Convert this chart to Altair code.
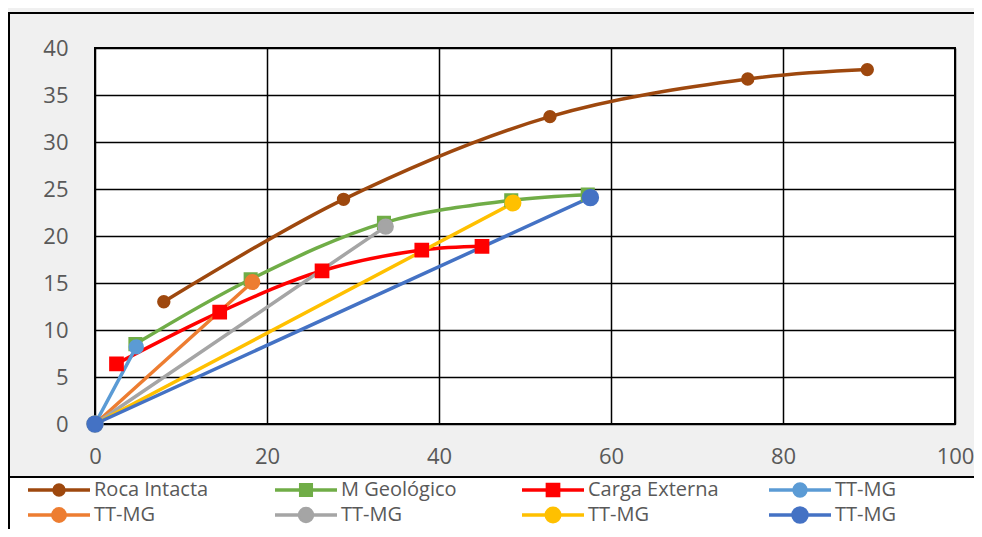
import altair as alt
import pandas as pd

# ---- series definitions ----
series_ids = ["s0", "s1", "s2", "s3", "s4", "s5", "s6", "s7"]
series_labels = ["Roca Intacta", "M Geológico", "Carga Externa",
                 "TT-MG", "TT-MG", "TT-MG", "TT-MG", "TT-MG"]

# ---- values ----
roca_x = [8.0, 28.9, 52.9, 75.9, 89.8]
roca_y = [13.0, 23.9, 32.7, 36.7, 37.7]
geo_x = [4.7, 18.1, 33.6, 48.4, 57.3]
geo_y = [8.5, 15.4, 21.4, 23.8, 24.4]
carga_x = [2.5, 14.5, 26.4, 38.0, 45.0]
carga_y = [6.4, 11.9, 16.3, 18.5, 18.9]
tt1_x = [0, 4.8]
tt1_y = [0, 8.2]
tt2_x = [0, 18.3]
tt2_y = [0, 15.1]
tt3_x = [0, 33.8]
tt3_y = [0, 21.0]
tt4_x = [0, 48.6]
tt4_y = [0, 23.5]
tt5_x = [0, 57.6]
tt5_y = [0, 24.1]

x_ticks = [0, 20, 40, 60, 80, 100]
y_ticks = [0, 5, 10, 15, 20, 25, 30, 35, 40]

# ---- styles ----
line_colors = ["#9e480e", "#70ad47", "#ff0000", "#5b9bd5",
               "#ed7d31", "#a5a5a5", "#ffc000", "#4472c4"]
marker_strokes = ["#5b9bd5", "#ed7d31", "#a5a5a5", "#ffc000",
                  "#4472c4", "#70ad47", "#a9c4e0", "#e8907a"]
marker_shapes = ["circle", "square", "square", "circle",
                 "circle", "circle", "circle", "circle"]
marker_sizes = [130, 240, 150, 130, 130, 130, 130, 130]
line_widths = [3.5, 3.5, 7.5, 3, 3, 3, 3, 3]

FONT = "Open Sans"
TXT = "#595959"
FS = 22
LFS = 20

xs = [roca_x, geo_x, carga_x, tt1_x, tt2_x, tt3_x, tt4_x, tt5_x]
ys = [roca_y, geo_y, carga_y, tt1_y, tt2_y, tt3_y, tt4_y, tt5_y]
rows = []
for sid, sx, sy in zip(series_ids, xs, ys):
    for i, (a, b) in enumerate(zip(sx, sy)):
        rows.append({"sid": sid, "x": a, "y": b, "i": i})
df = pd.DataFrame(rows)

stroke_scale = alt.Scale(domain=series_ids, range=line_colors)
width_scale = alt.Scale(domain=series_ids, range=line_widths)
mstroke_scale = alt.Scale(domain=series_ids, range=marker_strokes)
shape_scale = alt.Scale(domain=series_ids, range=marker_shapes)
size_scale = alt.Scale(domain=series_ids, range=marker_sizes)

X = alt.X("x:Q", title=None,
          scale=alt.Scale(domain=[0, 100], nice=False),
          axis=alt.Axis(values=x_ticks, labelPadding=22, labelFlush=False))
Y = alt.Y("y:Q", title=None,
          scale=alt.Scale(domain=[0, 40], nice=False),
          axis=alt.Axis(values=y_ticks, labelPadding=27, labelFlush=False))

# ---- frame and legend box (decoration, pixel space) ----
box_df = pd.DataFrame({"k": ["frame", "legend"]})
frame = alt.Chart(box_df).transform_filter("datum.k == 'frame'").mark_rect(
    fill=None, stroke="black", strokeWidth=2).encode(
    x=alt.value(-86), x2=alt.value(900), y=alt.value(-35), y2=alt.value(600))
legbox = alt.Chart(box_df).transform_filter("datum.k == 'legend'").mark_rect(
    fill="white", stroke="black", strokeWidth=2).encode(
    x=alt.value(-86), x2=alt.value(900), y=alt.value(429), y2=alt.value(600))

base = alt.Chart(df)
smooth = base.transform_filter(
    alt.FieldOneOfPredicate(field="sid", oneOf=series_ids[:3])
).mark_line(interpolate="catmull-rom", strokeCap="round", strokeJoin="round").encode(
    x=X, y=Y,
    stroke=alt.Stroke("sid:N", scale=stroke_scale, legend=None),
    strokeWidth=alt.StrokeWidth("sid:N", scale=width_scale, legend=None),
    order="i:Q",
)
straight = base.transform_filter(
    alt.FieldOneOfPredicate(field="sid", oneOf=series_ids[3:])
).mark_line(strokeCap="round").encode(
    x=X, y=Y,
    stroke=alt.Stroke("sid:N", scale=stroke_scale, legend=None),
    strokeWidth=alt.StrokeWidth("sid:N", scale=width_scale, legend=None),
    order="i:Q",
)
points = base.mark_point(filled=True, opacity=1, strokeWidth=2).encode(
    x=X, y=Y,
    fill=alt.Fill("sid:N", scale=stroke_scale, legend=None),
    stroke=alt.Stroke("sid:N", scale=mstroke_scale, legend=None),
    shape=alt.Shape("sid:N", scale=shape_scale, legend=None),
    size=alt.Size("sid:N", scale=size_scale, legend=None),
)

# ---- legend entries (4 columns x 2 rows) ----
leg_df = pd.DataFrame({"sid": series_ids, "label": series_labels,
                       "k": list(range(len(series_ids)))})
lbase = alt.Chart(leg_df).transform_calculate(
    col="datum.k % 4", row="floor(datum.k / 4)"
).transform_calculate(
    px="-67 + datum.col * 247", py="442 + datum.row * 25"
).transform_calculate(
    px2="datum.px + 62", pm="datum.px + 31", pt="datum.px + 66"
)
LY = alt.Y("py:Q", scale=None, axis=None)
lrule = lbase.mark_rule(strokeCap="butt").encode(
    x=alt.X("px:Q", scale=None, axis=None), x2="px2:Q", y=LY,
    stroke=alt.Stroke("sid:N", scale=stroke_scale, legend=None),
    strokeWidth=alt.StrokeWidth("sid:N", scale=width_scale, legend=None),
)
lpts = lbase.mark_point(filled=True, opacity=1, strokeWidth=2).encode(
    x=alt.X("pm:Q", scale=None, axis=None), y=LY,
    fill=alt.Fill("sid:N", scale=stroke_scale, legend=None),
    stroke=alt.Stroke("sid:N", scale=mstroke_scale, legend=None),
    shape=alt.Shape("sid:N", scale=shape_scale, legend=None),
    size=alt.Size("sid:N", scale=size_scale, legend=None),
)
ltxt = lbase.mark_text(align="left", baseline="middle",
                       font=FONT, fontSize=LFS, color=TXT).encode(
    x=alt.X("pt:Q", scale=None, axis=None), y=LY, text="label:N")

chart = alt.layer(frame, smooth, straight, points, legbox, lrule, lpts, ltxt).properties(
    width=860, height=376,
    background="#f0f0f0",
    autosize=alt.AutoSizeParams(type="none"),
    padding={"left": 87, "top": 40, "right": 19, "bottom": 105},
).configure_view(
    fill="white", stroke="black", strokeWidth=2,
).configure_axis(
    grid=True, gridColor="black", gridWidth=1.5, gridOpacity=1,
    domain=False, ticks=False,
    labelFont=FONT, labelFontSize=FS, labelColor=TXT,
)

chart.save("out.html", embed_options={"renderer": "svg", "actions": False})
